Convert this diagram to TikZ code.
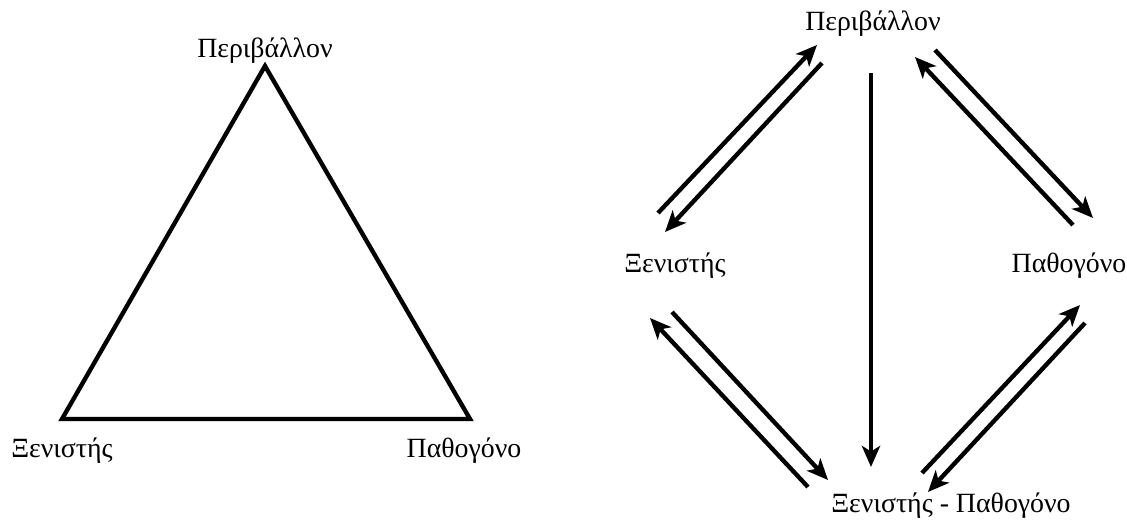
\documentclass[tikz,border=0pt]{standalone}
\usepackage{fontspec}
\setmainfont{Liberation Serif}
\usetikzlibrary{arrows.meta}

\begin{document}
\begin{tikzpicture}[x=0.025cm,y=-0.025cm,line width=3.1pt,
		lbl/.style={font=\fontsize{19.8}{22}\selectfont,inner sep=0pt,anchor=base},
		arr/.style={-{Stealth[length=15pt,width=13pt,inset=4pt]}}]
			\useasboundingbox (0,0) rectangle (1127,526);
			% triangle
			\node[lbl] (per_l) at (265,57) {Περιβάλλον};
			\node[lbl] (xen_l) at (62,457) {Ξενιστής};
			\node[lbl] (path_l) at (464,457) {Παθογόνο};
			\coordinate (top_l) at (265,66);
			\coordinate (bl_l) at (62,419);
			\coordinate (br_l) at (470,419);
			\draw (top_l) -- (bl_l) -- (br_l) -- cycle;
			% interactions
			\node[lbl] (per_r) at (873,30) {Περιβάλλον};
			\node[lbl] (xen_r) at (675,272) {Ξενιστής};
			\node[lbl] (path_r) at (1069,272) {Παθογόνο};
			\node[lbl] (xp_r) at (951,512) {Ξενιστής - Παθογόνο};
			\coordinate (a1s) at (658,213);
			\coordinate (a1e) at (817,45);
			\coordinate (a2s) at (822,63);
			\coordinate (a2e) at (665,232);
			\coordinate (b1s) at (1073,225);
			\coordinate (b1e) at (915,57);
			\coordinate (b2s) at (935,50);
			\coordinate (b2e) at (1093,218);
			\coordinate (vs) at (871,73);
			\coordinate (ve) at (871,467);
			\coordinate (c1s) at (808,487);
			\coordinate (c1e) at (650,318);
			\coordinate (c2s) at (672,312);
			\coordinate (c2e) at (828,480);
			\coordinate (e1s) at (922,473);
			\coordinate (e1e) at (1080,305);
			\coordinate (e2s) at (1085,323);
			\coordinate (e2e) at (928,492);
			\draw[arr] (a1s) -- (a1e);
			\draw[arr] (a2s) -- (a2e);
			\draw[arr] (b1s) -- (b1e);
			\draw[arr] (b2s) -- (b2e);
			\draw[arr] (vs) -- (ve);
			\draw[arr] (c1s) -- (c1e);
			\draw[arr] (c2s) -- (c2e);
			\draw[arr] (e1s) -- (e1e);
			\draw[arr] (e2s) -- (e2e);
		\end{tikzpicture}
\end{document}
